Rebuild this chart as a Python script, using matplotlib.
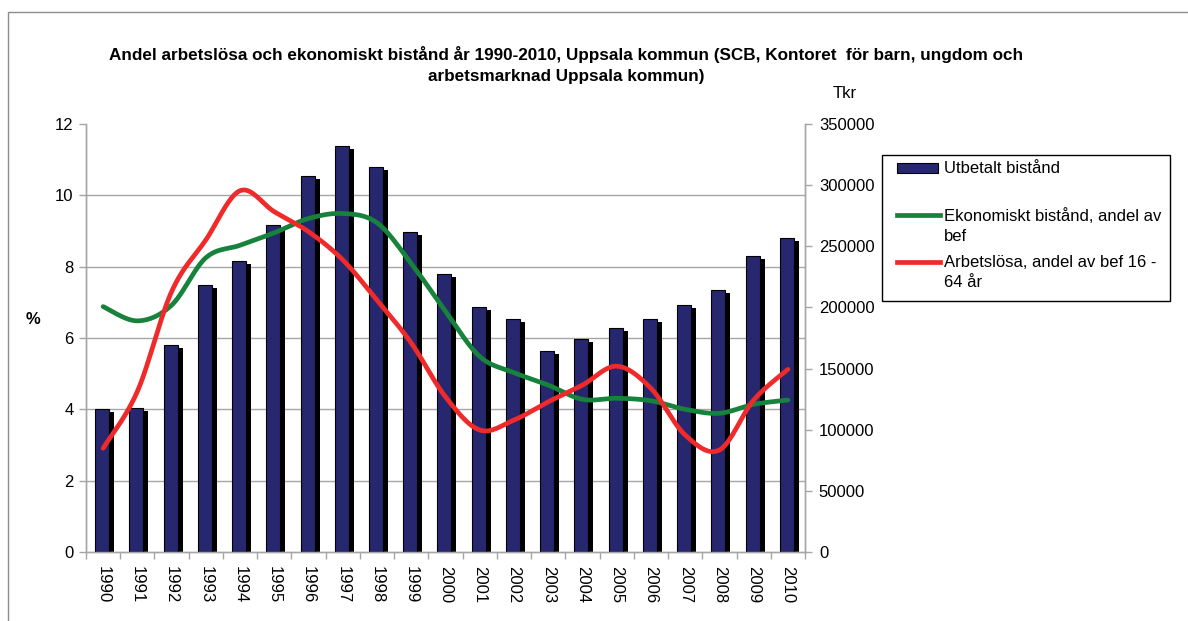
import matplotlib
matplotlib.use("Agg")
import matplotlib.pyplot as plt
import matplotlib.transforms as mtransforms
from matplotlib.patches import Rectangle
from matplotlib.lines import Line2D
import numpy as np

plt.rcParams["font.family"] = ["Liberation Sans", "DejaVu Sans"]

years = [str(y) for y in range(1990, 2011)]
utbetalt_tkr = [116700, 117800, 169300, 218400, 238300, 267200, 307200,
                332200, 314800, 261900, 227100, 200600, 190500, 164600,
                174400, 183200, 190500, 202000, 214300, 242000, 256700]
ekonomiskt_pct = [6.88, 6.48, 6.92, 8.25, 8.6, 8.95, 9.35, 9.49, 9.23, 8.09,
                  6.75, 5.48, 5.03, 4.68, 4.28, 4.31, 4.24, 4.0, 3.89, 4.14,
                  4.26]
arbetslosa_pct = [2.91, 4.5, 7.3, 8.75, 10.13, 9.54, 8.98, 8.19, 7.06, 5.86,
                  4.35, 3.42, 3.7, 4.21, 4.68, 5.21, 4.59, 3.28, 2.86, 4.26,
                  5.12]

title = ("Andel arbetslösa och ekonomiskt bistånd år 1990-2010, Uppsala kommun "
         "(SCB, Kontoret  för barn, ungdom och\n"
         "arbetsmarknad Uppsala kommun)")
labels = ["Utbetalt bistånd", "Ekonomiskt bistånd, andel av\nbef",
          "Arbetslösa, andel av bef 16 -\n64 år"]

BAR = "#27276f"
GREEN = "#17823c"
RED = "#ee2a2a"
GRID = "#a6a6a6"

W, H = 1188, 621


def smooth(xs, ys, n=24):
    # Excel-style smoothed line (Catmull-Rom through the points)
    p = np.column_stack([xs, ys]).astype(float)
    p = np.vstack([p[0], p, p[-1]])
    out = []
    for i in range(1, len(p) - 2):
        p0, p1, p2, p3 = p[i - 1], p[i], p[i + 1], p[i + 2]
        c1 = p1 + (p2 - p0) / 6
        c2 = p2 - (p3 - p1) / 6
        t = np.linspace(0, 1, n)[:, None]
        seg = ((1 - t) ** 3 * p1 + 3 * (1 - t) ** 2 * t * c1
               + 3 * (1 - t) * t ** 2 * c2 + t ** 3 * p2)
        out.append(seg if i == 1 else seg[1:])
    out = np.vstack(out)
    return out[:, 0], out[:, 1]


def px(x, y):
    return x / W, 1 - y / H


fig = plt.figure(figsize=(W / 100, H / 100), dpi=100)
ax = fig.add_axes([86 / W, 69 / H, 719 / W, 428 / H])
ax2 = ax.twinx()

x = np.arange(len(years))

# bars with drop shadow on the right axis
shadow = mtransforms.offset_copy(ax2.transData, fig, x=5, y=-3, units="dots")
ax2.bar(x - 0.03, utbetalt_tkr, width=0.41, color="black", transform=shadow,
        zorder=2)
ax2.bar(x - 0.03, utbetalt_tkr, width=0.41, color=BAR, edgecolor="black",
        linewidth=0.8, zorder=3)
ax2.set_ylim(0, 350000)
ax2.set_yticks(np.arange(0, 350001, 50000))
ax2.set_yticks(np.linspace(0, 350000, 7), minor=True)
ax2.grid(which="minor", axis="y", color=GRID, linewidth=1)
ax2.tick_params(axis="y", which="minor", length=0)
ax2.tick_params(axis="y", which="major", length=5, width=1, color=GRID,
                labelsize=12, pad=5)

# lines on the left axis, drawn above the bars
ax.set_zorder(ax2.get_zorder() + 1)
ax.patch.set_visible(False)
for vals, col in ((ekonomiskt_pct, GREEN), (arbetslosa_pct, RED)):
    sx, sy = smooth(x, vals)
    ax.plot(sx, sy, color=col, linewidth=3.4, solid_capstyle="round")
ax.set_ylim(0, 12)
ax.set_yticks(np.arange(0, 13, 2))
ax.tick_params(axis="y", length=5, width=1, color=GRID, labelsize=12, pad=4)

ax.set_xlim(-0.5, len(years) - 0.5)
ax.set_xticks(np.arange(-0.5, len(years)))
ax.set_xticklabels([])
ax.set_xticks(x, minor=True)
ax.set_xticklabels(years, minor=True, rotation=-90, fontsize=12)
ax.tick_params(axis="x", which="major", length=5, width=1, color=GRID)
ax.tick_params(axis="x", which="minor", length=0, pad=10)

for a in (ax, ax2):
    a.spines["top"].set_visible(False)
    for s in ("left", "right", "bottom"):
        a.spines[s].set_color(GRID)
        a.spines[s].set_linewidth(1)

fig.text(*px(566, 65), title, ha="center", va="center", fontsize=12.3,
         fontweight="bold", linespacing=1.45)
fig.text(*px(33, 320), "%", ha="center", va="center", fontsize=12,
         fontweight="bold")
fig.text(*px(845, 93), "Tkr", ha="center", va="center", fontsize=12)

# frame around the chart
fig.add_artist(Rectangle(px(8, 630), (W + 20) / W, 618 / H,
                         transform=fig.transFigure, fill=False,
                         edgecolor="#8c8c8c", linewidth=1))

# legend
fig.add_artist(Rectangle(px(882, 301), 288 / W, 146 / H,
                         transform=fig.transFigure, facecolor="white",
                         edgecolor="black", linewidth=1))
fig.add_artist(Rectangle(px(897, 173), 41 / W, 10 / H,
                         transform=fig.transFigure, facecolor=BAR,
                         edgecolor="black", linewidth=0.8))
for yy, col in ((215, GREEN), (262, RED)):
    x0, y0 = px(897, yy)
    x1, _ = px(940, yy)
    fig.add_artist(Line2D([x0, x1], [y0, y0], transform=fig.transFigure,
                          color=col, linewidth=3.4))
for yy, lab in zip((168, 215, 262), labels):
    fig.text(*px(944, yy - 7), lab, ha="left", va="top", fontsize=12,
             linespacing=1.4)

fig.savefig("out.png", dpi=100)
